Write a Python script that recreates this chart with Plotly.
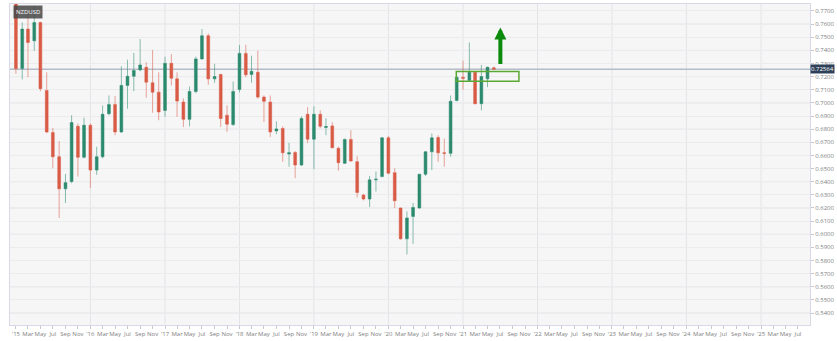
import pandas as pd
import plotly.graph_objects as go

# ---------------- data (monthly NZD/USD candles) ----------------
start_month = "2015-01-01"
opens = [0.7800, 0.7261, 0.7562, 0.7473, 0.7612, 0.7095, 0.6775, 0.6590, 0.6346, 0.6401, 0.6822, 0.6586,
         0.6830, 0.6489, 0.6590, 0.6918, 0.6987, 0.6779, 0.7133, 0.7203, 0.7251, 0.7271, 0.7153, 0.7082,
         0.6943, 0.7301, 0.7183, 0.7006, 0.6875, 0.7087, 0.7335, 0.7511, 0.7183, 0.7216, 0.6906, 0.6835,
         0.7102, 0.7377, 0.7216, 0.7233, 0.7044, 0.7006, 0.6787, 0.6805, 0.6611, 0.6623, 0.6527, 0.6913,
         0.6724, 0.6913, 0.6813, 0.6825, 0.6654, 0.6540, 0.6722, 0.6552, 0.6298, 0.6268, 0.6414, 0.6439,
         0.6734, 0.6469, 0.6200, 0.5965, 0.6136, 0.6200, 0.6457, 0.6628, 0.6737, 0.6620, 0.6616, 0.7019,
         0.7195, 0.7170, 0.7233, 0.6994, 0.7183, 0.7267]
highs = [0.7880, 0.7612, 0.7670, 0.7738, 0.7619, 0.7233, 0.6810, 0.6709, 0.6459, 0.6906, 0.6843, 0.6888,
         0.6843, 0.6666, 0.6981, 0.7057, 0.7052, 0.7279, 0.7329, 0.7380, 0.7486, 0.7309, 0.7403, 0.7233,
         0.7352, 0.7372, 0.7233, 0.7034, 0.7125, 0.7352, 0.7562, 0.7528, 0.7297, 0.7223, 0.6981, 0.7163,
         0.7441, 0.7443, 0.7360, 0.7397, 0.7057, 0.7057, 0.6860, 0.6822, 0.6696, 0.6633, 0.6898, 0.6968,
         0.6974, 0.6943, 0.6883, 0.6853, 0.6666, 0.6729, 0.6792, 0.6595, 0.6308, 0.6444, 0.6477, 0.6741,
         0.6747, 0.6502, 0.6202, 0.6174, 0.6238, 0.6457, 0.6633, 0.6767, 0.6754, 0.6729, 0.7057, 0.7208,
         0.7322, 0.7460, 0.7241, 0.7289, 0.7276, 0.7276]
lows = [0.7221, 0.7178, 0.7195, 0.7397, 0.7089, 0.6769, 0.6502, 0.6124, 0.6238, 0.6389, 0.6439, 0.6578,
        0.6351, 0.6452, 0.6578, 0.6906, 0.6754, 0.6772, 0.6956, 0.7089, 0.7241, 0.7040, 0.6925, 0.6868,
        0.6893, 0.7133, 0.6893, 0.6817, 0.6822, 0.7074, 0.7329, 0.7138, 0.7153, 0.6817, 0.6779, 0.6825,
        0.7080, 0.7195, 0.7153, 0.7032, 0.6855, 0.6741, 0.6762, 0.6552, 0.6514, 0.6427, 0.6520, 0.6694,
        0.6495, 0.6807, 0.6754, 0.6656, 0.6484, 0.6535, 0.6552, 0.6280, 0.6257, 0.6207, 0.6325, 0.6434,
        0.6457, 0.6200, 0.5960, 0.5846, 0.5927, 0.6194, 0.6444, 0.6489, 0.6552, 0.6514, 0.6590, 0.7012,
        0.7100, 0.7163, 0.6989, 0.6943, 0.7120, 0.7254]
closes = [0.7261, 0.7562, 0.7460, 0.7612, 0.7108, 0.6779, 0.6590, 0.6346, 0.6393, 0.6850, 0.6586, 0.6830,
          0.6489, 0.6590, 0.6913, 0.6987, 0.6779, 0.7133, 0.7203, 0.7246, 0.7289, 0.7158, 0.7082, 0.6931,
          0.7301, 0.7188, 0.7014, 0.6875, 0.7087, 0.7335, 0.7511, 0.7183, 0.7201, 0.6881, 0.6838, 0.7087,
          0.7377, 0.7214, 0.7241, 0.7044, 0.7012, 0.6779, 0.6802, 0.6620, 0.6620, 0.6527, 0.6881, 0.6724,
          0.6913, 0.6822, 0.6820, 0.6658, 0.6545, 0.6722, 0.6558, 0.6318, 0.6268, 0.6414, 0.6419, 0.6734,
          0.6465, 0.6255, 0.5965, 0.6124, 0.6204, 0.6457, 0.6628, 0.6734, 0.6620, 0.6616, 0.7012, 0.7195,
          0.7188, 0.7233, 0.6994, 0.7201, 0.7271, 0.72564]
dates = pd.date_range(start_month, periods=len(opens), freq="MS")

symbol = "NZDUSD"
tick_years = list(range(2015, 2026))
tick_months = ["Mar", "May", "Jul", "Sep", "Nov"]
last_tick = "2025-07-01"

# annotation drawing (breakout zone + arrow)
zone_dates = ["2020-11-29", "2021-10-02"]
zone_levels = [0.7165, 0.7240]
arrow_date = "2021-07-03"
arrow_levels = [0.7284, 0.7574]

x_range = ["2014-12-03", "2025-08-29"]
y_range = [0.5309, 0.7753]

# ---------------- figure ----------------
RED = "#d95b45"
GREEN = "#2b8a6e"
FONT = "Open Sans"

fig = go.Figure()
fig.add_trace(go.Candlestick(
    x=dates, open=opens, high=highs, low=lows, close=closes,
    increasing=dict(line=dict(color="rgba(43,138,110,0.55)", width=1), fillcolor=GREEN),
    decreasing=dict(line=dict(color="rgba(217,91,69,0.55)", width=1), fillcolor=RED),
    whiskerwidth=0, showlegend=False, hoverinfo="skip",
))

# x tick labels
tickvals, ticktext = [], []
for yr in tick_years:
    tickvals.append(f"{yr}-01-01")
    ticktext.append(f"'{str(yr)[2:]}")
    for i, m in enumerate(tick_months):
        d = f"{yr}-{3 + 2 * i:02d}-01"
        if d <= last_tick:
            tickvals.append(d)
            ticktext.append(m)

shapes = []
# yearly vertical grid lines
for yr in tick_years[1:]:
    shapes.append(dict(type="line", xref="x", yref="paper", x0=f"{yr}-01-01", x1=f"{yr}-01-01",
                       y0=0, y1=1, line=dict(color="#e4e4e8", width=1), layer="below"))
# darker horizontal grid every 0.02
lvl = 0.54
while lvl <= 0.77 + 1e-9:
    shapes.append(dict(type="line", xref="paper", yref="y", x0=0, x1=1, y0=round(lvl, 2), y1=round(lvl, 2),
                       line=dict(color="#e2e2e6", width=1), layer="below"))
    lvl += 0.02
# current price line
shapes.append(dict(type="line", xref="paper", yref="y", x0=0, x1=1, y0=closes[-1], y1=closes[-1],
                   line=dict(color="#b4bcc8", width=1.5), layer="below"))
# breakout zone
shapes.append(dict(type="rect", xref="x", yref="y", x0=zone_dates[0], x1=zone_dates[1],
                   y0=zone_levels[0], y1=zone_levels[1],
                   line=dict(color="#5aa832", width=1.5), fillcolor="rgba(0,0,0,0)", layer="above"))

annotations = [
    dict(xref="paper", yref="paper", x=0.004, y=0.996, xanchor="left", yanchor="top",
         text=symbol, showarrow=False, bgcolor="rgba(70,70,70,0.85)",
         font=dict(family=FONT, size=6, color="white"), borderpad=2),
    dict(xref="paper", yref="y", x=1.0, y=closes[-1], xanchor="left", yanchor="middle",
         text=f"{closes[-1]:.5f}", showarrow=False, bgcolor="#2f4159",
         font=dict(family=FONT, size=6, color="white"), borderpad=0),
    dict(xref="x", yref="y", x=arrow_date, y=arrow_levels[1], axref="x", ayref="y",
         ax=arrow_date, ay=arrow_levels[0], text="", showarrow=True,
         arrowhead=2, arrowsize=0.6, arrowwidth=4, arrowcolor="#0b8a0b"),
]

fig.update_layout(
    width=837, height=341,
    margin=dict(l=10, r=25, t=3, b=15),
    paper_bgcolor="white", plot_bgcolor="#f6f6f7",
    font=dict(family=FONT, size=6, color="#808080"),
    shapes=shapes, annotations=annotations,
    xaxis=dict(type="date", range=x_range, rangeslider=dict(visible=False),
               tickmode="array", tickvals=tickvals, ticktext=ticktext, tickangle=0,
               showgrid=False, zeroline=False, ticks="outside", ticklen=3, tickcolor="#c8c8d0",
               showline=True, linecolor="#d8d8e8", mirror=True,
               tickfont=dict(family=FONT, size=6, color="#808080")),
    yaxis=dict(side="right", range=y_range, dtick=0.01, tick0=0.54, tickformat=".4f",
               showgrid=True, gridcolor="#ececee", zeroline=False,
               ticks="outside", ticklen=3, tickcolor="#c8c8d0",
               showline=True, linecolor="#d8d8e8", mirror=True,
               tickfont=dict(family=FONT, size=6, color="#808080")),
)

fig.write_html("out.html")
